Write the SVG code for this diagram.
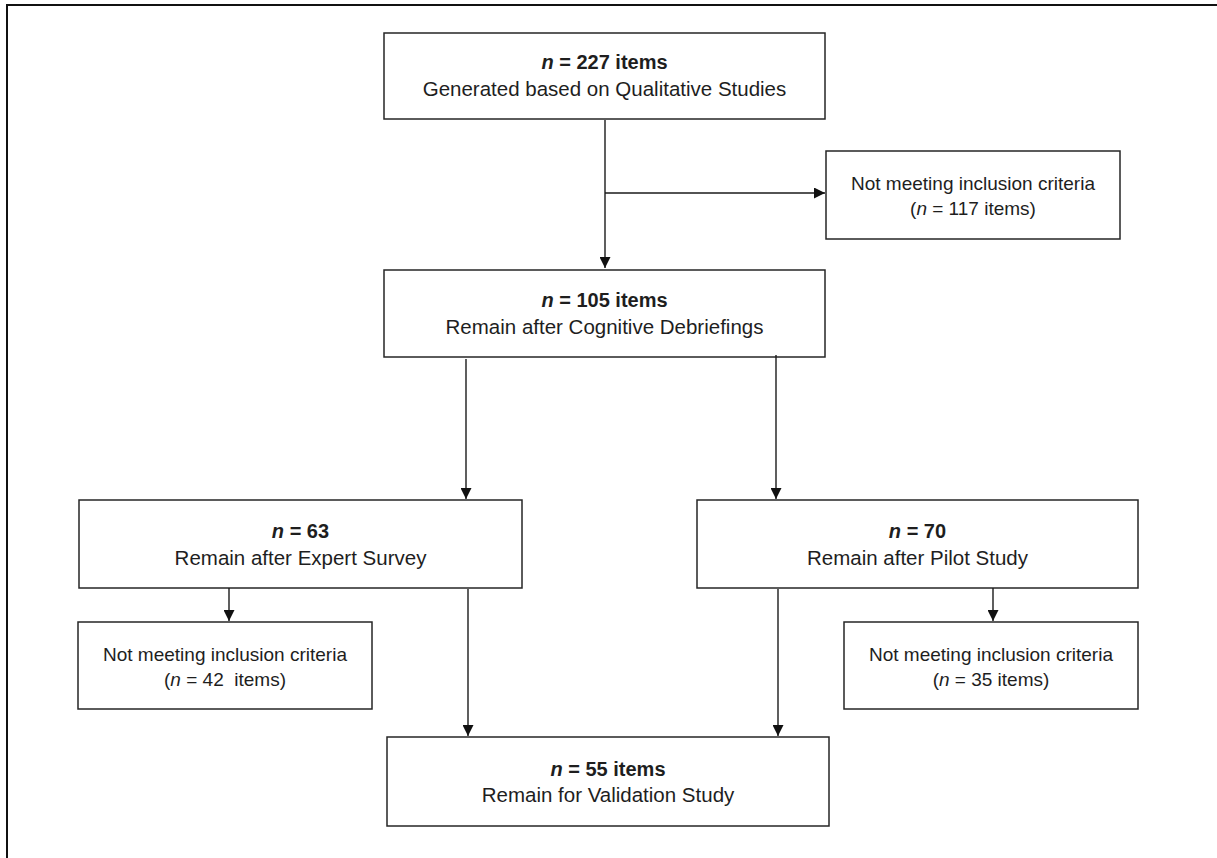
<svg xmlns="http://www.w3.org/2000/svg" width="1217" height="858" viewBox="0 0 1217 858">
<style>
.box{fill:#fff;stroke:#262626;stroke-width:1.5}
.frame{fill:none;stroke:#111;stroke-width:2}
.ln{fill:none;stroke:#1a1a1a;stroke-width:1.4}
text{font-family:"Liberation Sans",Arial,sans-serif;fill:#1e1e1e;text-anchor:middle}
.t{font-size:20px;font-weight:bold}
.s{font-size:20.5px}
.m{font-size:19px;white-space:pre}
.i{font-style:italic}
</style>
<defs>
<marker id="ah" markerUnits="userSpaceOnUse" markerWidth="11" markerHeight="11" refX="11" refY="5.5" orient="auto">
<path d="M0,0 L11,5.5 L0,11 z" fill="#111"/>
</marker>
</defs>
<rect width="1217" height="858" fill="#fff"/>
<path class="frame" d="M7,862 V5 H1220"/>

<g id="n-227">
<rect class="box" x="384" y="33" width="441" height="86"/>
<text class="t" x="604.5" y="69"><tspan class="i">n</tspan> = 227 items</text>
<text class="s" x="604.5" y="96">Generated based on Qualitative Studies</text>
</g>

<g id="excl-117">
<rect class="box" x="826" y="151" width="294" height="88"/>
<text class="m" x="973" y="190">Not meeting inclusion criteria</text>
<text class="m" x="973" y="215">(<tspan class="i">n</tspan> = 117 items)</text>
</g>

<g id="n-105">
<rect class="box" x="384" y="270" width="441" height="87"/>
<text class="t" x="604.5" y="307"><tspan class="i">n</tspan> = 105 items</text>
<text class="s" x="604.5" y="334">Remain after Cognitive Debriefings</text>
</g>

<g id="n-63">
<rect class="box" x="79" y="500" width="443" height="88"/>
<text class="t" x="300.5" y="538"><tspan class="i">n</tspan> = 63</text>
<text class="s" x="300.5" y="565">Remain after Expert Survey</text>
</g>

<g id="n-70">
<rect class="box" x="697" y="500" width="441" height="88"/>
<text class="t" x="917.5" y="538"><tspan class="i">n</tspan> = 70</text>
<text class="s" x="917.5" y="565">Remain after Pilot Study</text>
</g>

<g id="excl-42">
<rect class="box" x="78" y="622" width="294" height="87"/>
<text class="m" x="225" y="661">Not meeting inclusion criteria</text>
<text class="m" x="225" y="686">(<tspan class="i">n</tspan> = 42  items)</text>
</g>

<g id="excl-35">
<rect class="box" x="844" y="622" width="294" height="87"/>
<text class="m" x="991" y="661">Not meeting inclusion criteria</text>
<text class="m" x="991" y="686">(<tspan class="i">n</tspan> = 35 items)</text>
</g>

<g id="n-55">
<rect class="box" x="387" y="737" width="442" height="89"/>
<text class="t" x="608" y="776"><tspan class="i">n</tspan> = 55 items</text>
<text class="s" x="608" y="802">Remain for Validation Study</text>
</g>

<g id="connectors">
<path class="ln" d="M605,120 V268" marker-end="url(#ah)"/>
<path class="ln" d="M605,193 H825" marker-end="url(#ah)"/>
<path class="ln" d="M466,359 V499" marker-end="url(#ah)"/>
<path class="ln" d="M776,355 V499" marker-end="url(#ah)"/>
<path class="ln" d="M229,588 V621" marker-end="url(#ah)"/>
<path class="ln" d="M993,588 V621" marker-end="url(#ah)"/>
<path class="ln" d="M468,589 V736" marker-end="url(#ah)"/>
<path class="ln" d="M778,589 V736" marker-end="url(#ah)"/>
</g>
</svg>
